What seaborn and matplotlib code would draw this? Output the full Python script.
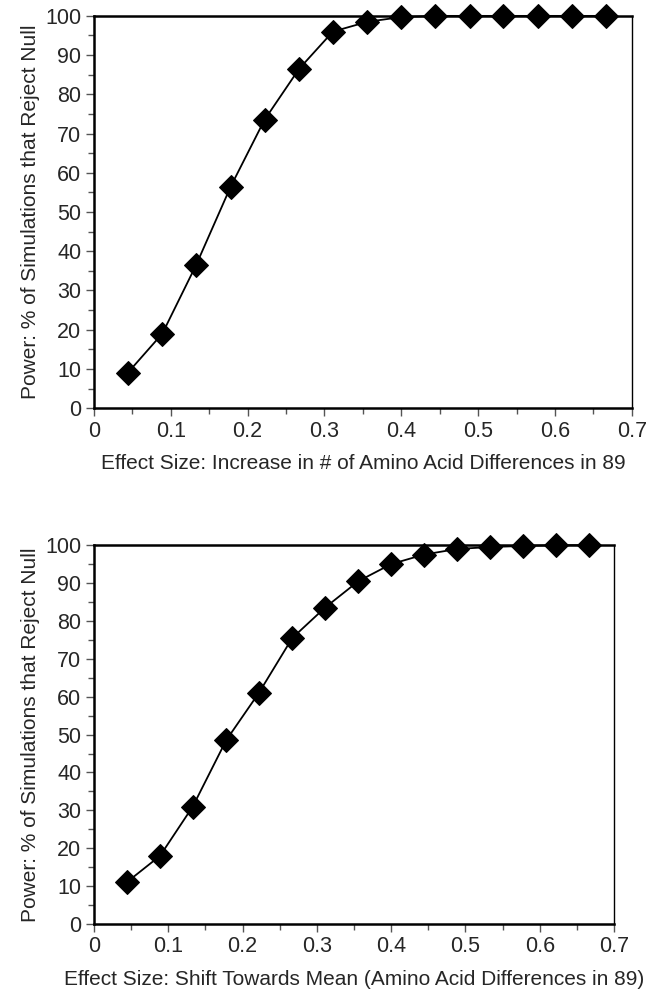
import numpy as np
import pandas as pd
import matplotlib.pyplot as plt
import matplotlib.font_manager as fm
import seaborn as sns
from matplotlib.ticker import MultipleLocator

effect = [0.044, 0.089, 0.133, 0.178, 0.222, 0.267, 0.311, 0.356,
          0.400, 0.444, 0.489, 0.533, 0.578, 0.622, 0.667]
power_increase = [9, 19, 36.5, 56.5, 73.5, 86.5, 96, 98.5,
                  99.7, 100, 100, 100, 100, 100, 100]
power_shift = [11, 18, 31, 48.5, 61, 75.5, 83.5, 90.5,
               95, 97.5, 99, 99.5, 99.8, 100, 100]

xlabels = ['Effect Size: Increase in # of Amino Acid Differences in 89',
           'Effect Size: Shift Towards Mean (Amino Acid Differences in 89)']
ylabel = 'Power: % of Simulations that Reject Null'

sns.set_style('ticks')
names = {f.name for f in fm.fontManager.ttflist}
fam = 'Liberation Sans Narrow' if 'Liberation Sans Narrow' in names else 'Liberation Sans'
plt.rcParams['font.family'] = [fam, 'DejaVu Sans']

fig = plt.figure(figsize=(6.48, 9.93), dpi=100)
ax1 = fig.add_axes([0.145, 0.589, 0.830, 0.395])
ax2 = fig.add_axes([0.145, 0.0695, 0.8025, 0.3815])

for ax, vals, xl in [(ax1, power_increase, xlabels[0]), (ax2, power_shift, xlabels[1])]:
    df = pd.DataFrame({'x': effect, 'y': vals})
    sns.lineplot(data=df, x='x', y='y', ax=ax, color='black', linewidth=1.3,
                 marker='D', markersize=12, markeredgecolor='black',
                 markerfacecolor='black', clip_on=False, zorder=5)
    ax.set_xlim(0, 0.7)
    ax.set_ylim(0, 100)
    ax.xaxis.set_major_locator(MultipleLocator(0.1))
    ax.xaxis.set_minor_locator(MultipleLocator(0.05))
    ax.yaxis.set_major_locator(MultipleLocator(10))
    ax.yaxis.set_minor_locator(MultipleLocator(5))
    ax.xaxis.set_major_formatter(lambda v, p: '0' if abs(v) < 1e-9 else f'{v:.1f}')
    ax.tick_params(which='major', length=6, width=1.0, color='#555555',
                   labelsize=15.5, direction='out', pad=3)
    ax.tick_params(which='minor', length=4, width=1.0, color='#555555', direction='out')
    for s in ['left', 'bottom', 'top']:
        ax.spines[s].set_linewidth(1.8)
    ax.spines['right'].set_linewidth(1.0)
    for s in ax.spines.values():
        s.set_color('black')
        s.set_visible(True)
    ax.set_xlabel(xl, fontsize=15, labelpad=9)
    ax.set_ylabel(ylabel, fontsize=15, labelpad=4)

fig.savefig('out.png', dpi=100)
